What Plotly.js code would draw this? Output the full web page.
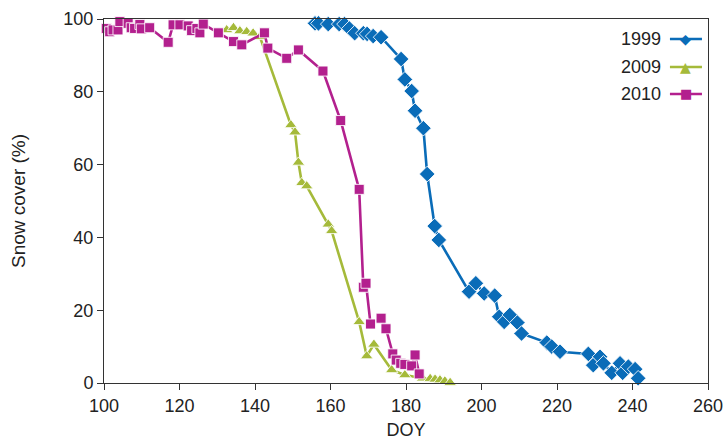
<!DOCTYPE html>
<html>
<head>
<meta charset="utf-8">
<script src="https://cdn.plot.ly/plotly-3.0.1.min.js"></script>
<style>html,body{margin:0;padding:0;background:#fff;}#chart{width:728px;height:444px;}</style>
</head>
<body>
<div id="chart"></div>
<script>
// ---- data ----
const seriesNames = ["1999", "2009", "2010"];

const doy1999 = [155.9,156.8,159.4,162.3,163.7,165.0,166.4,168.7,169.7,171.3,173.4,178.7,179.7,181.5,182.4,184.6,185.6,187.6,188.7,196.7,198.5,200.7,203.5,204.7,206.0,207.5,209.5,210.6,217.3,218.6,220.8,228.3,229.6,231.4,232.3,234.5,236.7,237.4,238.9,240.7,241.5];
const snow1999 = [98.8,98.8,98.6,98.6,98.6,97.4,96.1,96.1,95.9,95.3,95.0,89.0,83.4,80.2,74.8,70.0,57.4,43.1,39.3,25.1,27.4,24.6,24.0,18.2,16.8,18.7,16.6,13.6,11.1,10.0,8.6,8.0,4.9,7.2,5.4,2.8,5.4,2.8,4.5,3.8,1.3];

const doy2009 = [132.5,134.3,136.0,137.8,139.5,141.3,149.5,150.6,151.5,152.4,153.7,159.4,160.3,167.6,169.6,171.5,176.2,179.7,184.4,186.4,187.7,189.0,190.3,191.7];
const snow2009 = [97.0,97.6,96.7,96.5,96.1,95.1,70.9,68.9,60.6,55.0,54.1,43.6,41.8,16.8,7.4,10.6,3.6,2.2,1.3,1.2,1.0,0.8,0.5,0.1];

const doy2010 = [100.6,101.5,102.4,103.7,104.2,106.4,107.2,108.1,109.5,109.9,112.1,117.0,118.3,120.1,122.3,123.2,124.6,125.4,126.3,130.3,134.3,136.5,142.5,143.4,148.4,151.5,158.0,162.7,167.6,168.7,169.4,170.6,173.4,174.7,176.5,177.4,178.6,179.7,181.5,182.4,183.5];
const snow2010 = [97.4,96.5,97.0,97.0,99.3,98.8,97.6,97.4,98.5,97.3,97.6,93.6,98.4,98.4,98.1,96.8,97.4,96.2,98.6,96.2,93.8,92.9,96.2,92.0,89.2,91.5,85.7,72.1,53.2,26.3,27.4,16.2,17.8,14.9,8.0,6.3,5.4,5.1,4.7,7.7,2.5];

const xTicks = [100,120,140,160,180,200,220,240,260];
const yTicks = [0,20,40,60,80,100];

// ---- styles ----
const colors = {"1999":"#0a6cb8","2009":"#a5ba3a","2010":"#b3208e"};
const symbols = {"1999":"diamond","2009":"triangle-up","2010":"square"};
const sizes = {"1999":12,"2009":11,"2010":10};
const glyphs = {"1999":"\u25C6","2009":"\u25B2","2010":"\u25A0"};
const dataMap = {"1999":[doy1999,snow1999],"2009":[doy2009,snow2009],"2010":[doy2010,snow2010]};
const FONT = "'Liberation Sans', Arial, Helvetica, sans-serif";

const drawOrder = ["1999","2009","2010"];
const traces = drawOrder.map(n => ({
  type:"scatter", mode:"lines+markers", name:n,
  x:dataMap[n][0], y:dataMap[n][1],
  line:{color:colors[n], width:2.6},
  marker:{symbol:symbols[n], size:sizes[n], color:colors[n], line:{color:"rgba(255,255,255,0.85)", width:1}},
  showlegend:false, cliponaxis:false
}));

// custom legend: label on the left, sample on the right
const legY = [0.945, 0.868, 0.794];
const shapes = [], annotations = [];
seriesNames.forEach((n,i) => {
  shapes.push({type:"line", xref:"paper", yref:"paper", x0:0.937, x1:0.990, y0:legY[i], y1:legY[i], line:{color:colors[n], width:2.6}});
  annotations.push({xref:"paper", yref:"paper", x:0.925, y:legY[i], xanchor:"right", yanchor:"middle", text:n, showarrow:false, font:{family:FONT, size:18, color:"#222"}});
  annotations.push({xref:"paper", yref:"paper", x:0.9635, y:legY[i], xanchor:"center", yanchor:"middle", text:glyphs[n], showarrow:false, font:{family:"DejaVu Sans", size: n==="2010"?13:14, color:colors[n]}});
});

const layout = {
  width:728, height:444,
  margin:{l:104, r:20, t:19, b:61},
  paper_bgcolor:"#fff", plot_bgcolor:"#fff",
  font:{family:FONT, size:18, color:"#222"},
  showlegend:false,
  xaxis:{range:[100,260], tickvals:xTicks, ticktext:xTicks.map(String), ticks:"outside", ticklen:6, tickcolor:"#333",
         showline:true, linecolor:"#333", linewidth:1, mirror:true, showgrid:false, zeroline:false,
         tickfont:{family:FONT, size:18, color:"#222"},
         title:{text:"DOY", font:{family:FONT, size:18, color:"#222"}, standoff:8}},
  yaxis:{range:[0,100], tickvals:yTicks, ticktext:yTicks.map(String), ticks:"outside", ticklen:6, tickcolor:"#333",
         showline:true, linecolor:"#333", linewidth:1, mirror:true, showgrid:false, zeroline:false,
         tickfont:{family:FONT, size:18, color:"#222"},
         title:{text:"Snow cover (%)", font:{family:FONT, size:19, color:"#222"}, standoff:32}},
  shapes:shapes, annotations:annotations
};

Plotly.newPlot("chart", traces, layout, {displayModeBar:false, staticPlot:true});
</script>
</body>
</html>
